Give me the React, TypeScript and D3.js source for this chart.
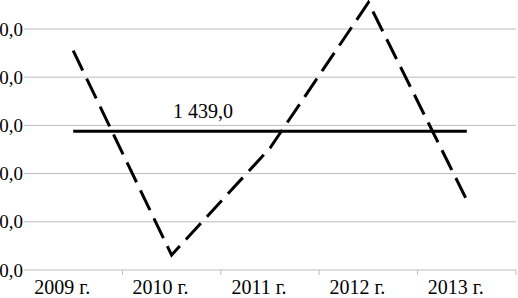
import React, { useRef, useEffect } from 'react';
import * as d3 from 'd3';

// Years on the x axis
const years = ['2009 г.', '2010 г.', '2011 г.', '2012 г.', '2013 г.'];
// Yearly values (dashed line)
const values = [2275, 155, 1265, 2775, 725];
// Average over the period (solid line)
const average = 1439.0;
// Y gridline values
const yTicks = [0, 500, 1000, 1500, 2000, 2500, 3000];

const ru = d3.formatLocale({ decimal: ',', thousands: '\u00a0', grouping: [3], currency: ['', ' р.'] });
const fmt = ru.format(',.1f');

const App = () => {
    const ref = useRef<SVGSVGElement | null>(null);

    useEffect(() => {
        if (!ref.current) return;
        const svg = d3.select(ref.current);
        svg.selectAll('*').remove();

        const width = 518;
        const height = 298;
        const margin = { left: 24, right: 2, bottom: 28 };
        const plotBottom = height - margin.bottom;
        const step = 48.2;

        const x = d3.scaleBand()
            .domain(years)
            .range([margin.left, width - margin.right])
            .padding(0);

        const y = d3.scaleLinear()
            .domain([0, 3000])
            .range([plotBottom, plotBottom - step * 6]);

        const cx = (d: string) => (x(d) as number) + x.bandwidth() / 2;
        const font = '"Liberation Serif", "Times New Roman", serif';

        // Gridlines
        svg.append('g')
            .selectAll('line')
            .data(yTicks)
            .join('line')
            .attr('x1', margin.left)
            .attr('x2', width - margin.right)
            .attr('y1', d => y(d))
            .attr('y2', d => y(d))
            .attr('stroke', '#bdbdbd')
            .attr('stroke-width', 1);

        // Y labels (the reference is cropped on the left, so they run off the edge)
        svg.append('g')
            .selectAll('text')
            .data(yTicks)
            .join('text')
            .attr('x', margin.left - 1)
            .attr('y', d => y(d))
            .attr('dy', '0.35em')
            .attr('text-anchor', 'end')
            .attr('font-family', font)
            .attr('font-size', 19)
            .attr('fill', '#000')
            .text(d => fmt(d));

        // X axis tick marks between categories
        const bounds = years.map(d => x(d) as number).concat([width - margin.right]).slice(1);
        svg.append('g')
            .selectAll('line')
            .data(bounds)
            .join('line')
            .attr('x1', d => d)
            .attr('x2', d => d)
            .attr('y1', plotBottom)
            .attr('y2', plotBottom + 5)
            .attr('stroke', '#bdbdbd');

        // X labels
        svg.append('g')
            .selectAll('text')
            .data(years)
            .join('text')
            .attr('x', d => cx(d) - 11)
            .attr('y', plotBottom + 24)
            .attr('text-anchor', 'middle')
            .attr('font-family', font)
            .attr('font-size', 20)
            .attr('fill', '#000')
            .text(d => d);

        // Average line
        const avgData = years.map(d => ({ year: d, value: average }));
        const line = d3.line<{ year: string; value: number }>()
            .x(d => cx(d.year))
            .y(d => y(d.value));

        svg.append('path')
            .datum(avgData)
            .attr('fill', 'none')
            .attr('stroke', '#000')
            .attr('stroke-width', 3)
            .attr('d', line);

        // Average label
        svg.append('text')
            .attr('x', cx(years[1]) + x.bandwidth() * 0.32)
            .attr('y', y(average) - 13)
            .attr('text-anchor', 'middle')
            .attr('font-family', font)
            .attr('font-size', 20)
            .attr('fill', '#000')
            .text(fmt(average));

        // Yearly values, dashed
        const series = years.map((d, i) => ({ year: d, value: values[i] }));
        svg.append('path')
            .datum(series)
            .attr('fill', 'none')
            .attr('stroke', '#000')
            .attr('stroke-width', 3)
            .attr('stroke-dasharray', '22,9')
            .attr('d', line);
    }, []);

    return (
        <svg
            ref={ref}
            width={518}
            height={298}
            style={{ position: 'absolute', left: 0, top: 0, background: '#fff' }}
        />
    );
};

export default App;
